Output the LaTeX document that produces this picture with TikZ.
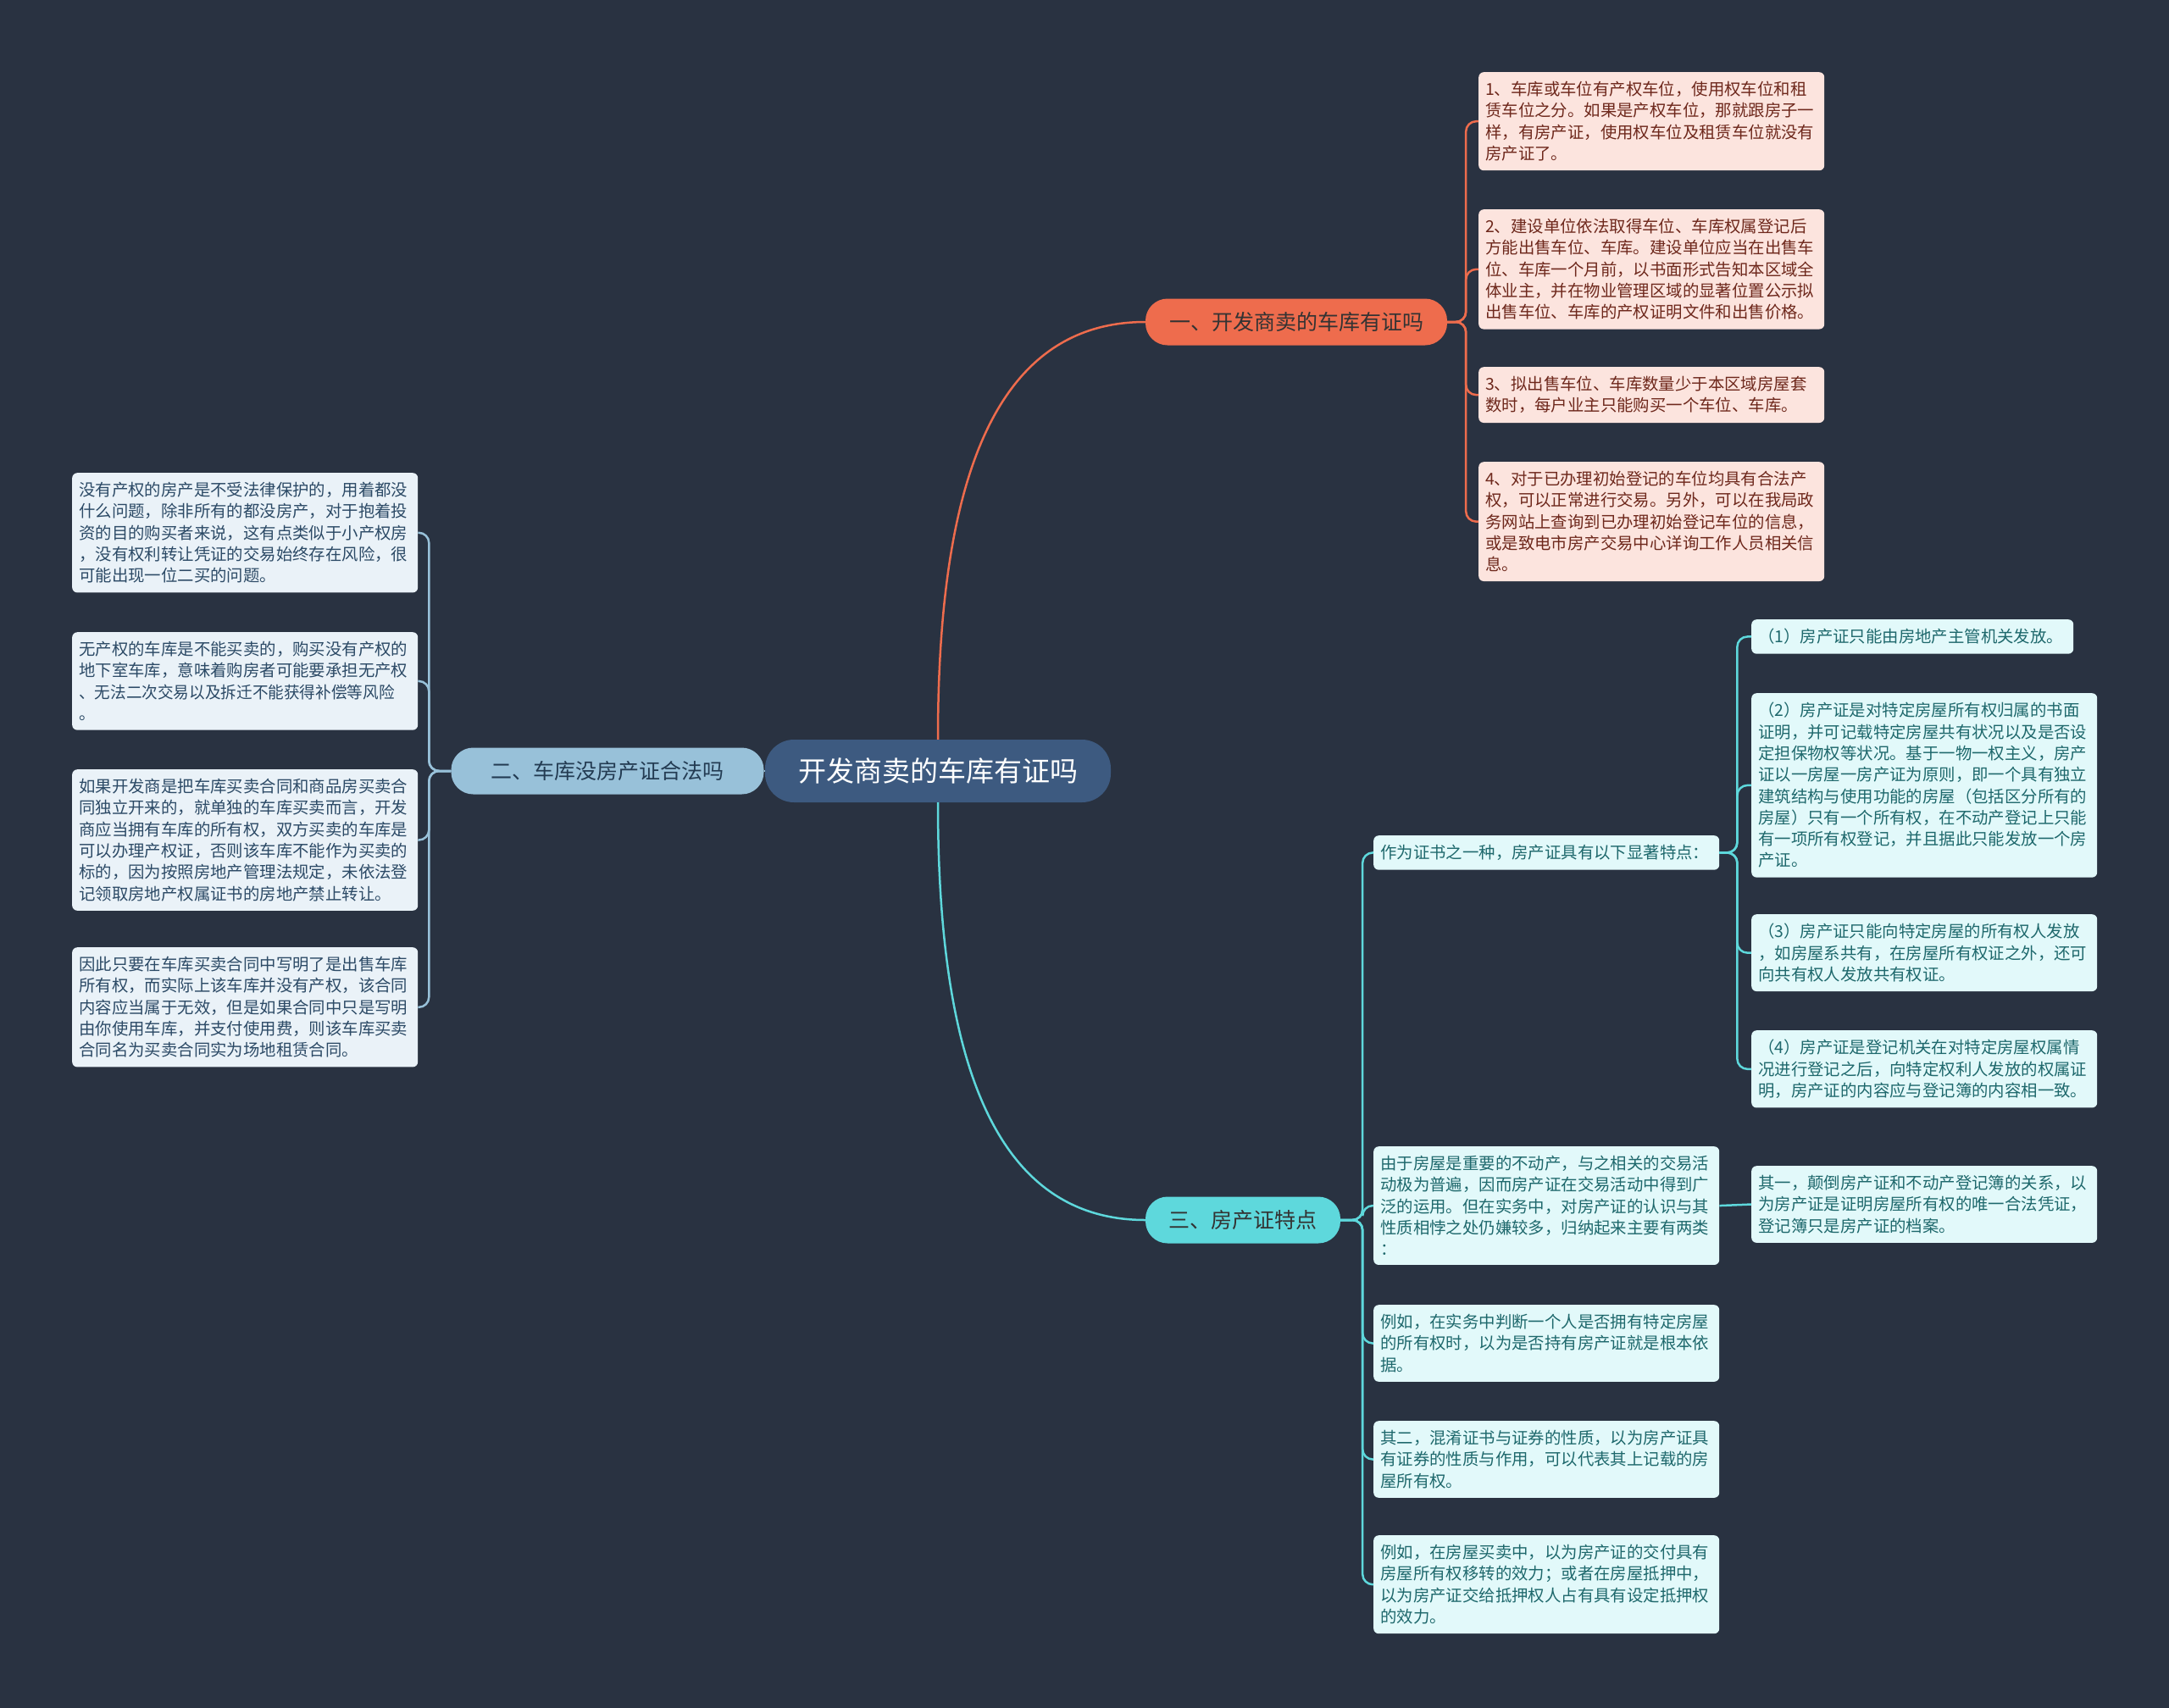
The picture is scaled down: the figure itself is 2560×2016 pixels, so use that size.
\documentclass[tikz,border=0pt]{standalone}
\usepackage{fontspec}
\setmainfont{Noto Sans CJK SC}
\usepackage{tikz}
\definecolor{bgdark}{RGB}{41,50,65}
\definecolor{rootblue}{RGB}{61,90,128}
\definecolor{mmorange}{RGB}{238,108,77}
\definecolor{mmsky}{RGB}{152,193,217}
\definecolor{mmcyan}{RGB}{94,216,220}
\definecolor{pinkfill}{RGB}{252,228,222}
\definecolor{pinktext}{RGB}{110,40,28}
\definecolor{skyfill}{RGB}{234,242,248}
\definecolor{skytext}{RGB}{44,74,102}
\definecolor{cyanfill}{RGB}{226,249,250}
\definecolor{cyantext}{RGB}{30,104,108}
% a line one character too long is set a little narrower
\newcommand{\tightline}[1]{{\addfontfeature{FakeStretch=0.96}#1}}

\begin{document}
\begin{tikzpicture}[x=1pt,y=-1pt,
  leafbox/.style={rounded corners=6pt,inner xsep=8pt,inner ysep=11pt,
    text width=392pt,align=left,anchor=north west,
    font=\fontsize{19.4}{25.3}\selectfont},
  leafA/.style={leafbox,fill=pinkfill,text=pinktext},
  leafB/.style={leafbox,fill=skyfill,text=skytext},
  leafC/.style={leafbox,fill=cyanfill,text=cyantext},
  topic/.style={rounded corners=26pt,minimum height=55pt,
    font=\fontsize{25}{30}\selectfont},
  linkA/.style={draw=mmorange,line width=2.5pt,rounded corners=12pt},
  linkB/.style={draw=mmsky,line width=2.5pt,rounded corners=12pt},
  linkC/.style={draw=mmcyan,line width=2.5pt,rounded corners=12pt}]
  \fill[bgdark] (0,0) rectangle (2560,2016);
  \useasboundingbox (0,0) rectangle (2560,2016);

  % centre and main topics
  \node[rounded corners=34pt,fill=rootblue,text=white,minimum width=408pt,
    minimum height=74pt,font=\fontsize{33}{38}\selectfont] (root) at (1107,910) {开发商卖的车库有证吗};
  \node[topic,fill=mmorange,text=black!80,minimum width=356pt] (b1) at (1530,380) {一、开发商卖的车库有证吗};
  \node[topic,fill=mmsky,text=skytext!80!black,minimum width=369pt] (b2) at (717,910) {二、车库没房产证合法吗};
  \node[topic,fill=mmcyan,text=black!80,minimum width=230pt] (b3) at (1467,1440) {三、房产证特点};

  % branch one
  \node[leafA] (l1) at (1745,85) {1、车库或车位有产权车位，使用权车位和租\\赁车位之分。如果是产权车位，那就跟房子一\\样，有房产证，使用权车位及租赁车位就没有\\房产证了。};
  \node[leafA] (l2) at (1745,247) {2、建设单位依法取得车位、车库权属登记后\\方能出售车位、车库。建设单位应当在出售车\\位、车库一个月前，以书面形式告知本区域全\\体业主，并在物业管理区域的显著位置公示拟\\出售车位、车库的产权证明文件和出售价格。};
  \node[leafA] (l3) at (1745,433) {3、拟出售车位、车库数量少于本区域房屋套\\数时，每户业主只能购买一个车位、车库。};
  \node[leafA] (l4) at (1745,545) {4、对于已办理初始登记的车位均具有合法产\\权，可以正常进行交易。另外，可以在我局政\\务网站上查询到已办理初始登记车位的信息，\\或是致电市房产交易中心详询工作人员相关信\\息。};

  % branch two
  \node[leafB] (m1) at (85,558) {没有产权的房产是不受法律保护的，用着都没\\什么问题，除非所有的都没房产，对于抱着投\\资的目的购买者来说，这有点类似于小产权房\\，没有权利转让凭证的交易始终存在风险，很\\可能出现一位二买的问题。};
  \node[leafB] (m2) at (85,746) {无产权的车库是不能买卖的，购买没有产权的\\地下室车库，意味着购房者可能要承担无产权\\\tightline{、无法二次交易以及拆迁不能获得补偿等风险}\\。};
  \node[leafB] (m3) at (85,908) {如果开发商是把车库买卖合同和商品房买卖合\\同独立开来的，就单独的车库买卖而言，开发\\商应当拥有车库的所有权，双方买卖的车库是\\可以办理产权证，否则该车库不能作为买卖的\\标的，因为按照房地产管理法规定，未依法登\\记领取房地产权属证书的房地产禁止转让。};
  \node[leafB] (m4) at (85,1118) {因此只要在车库买卖合同中写明了是出售车库\\所有权，而实际上该车库并没有产权，该合同\\内容应当属于无效，但是如果合同中只是写明\\由你使用车库，并支付使用费，则该车库买卖\\合同名为买卖合同实为场地租赁合同。};

  % branch three
  \node[leafC] (n1) at (1621,986) {作为证书之一种，房产证具有以下显著特点：};
  \node[leafC] (n2) at (1621,1353) {由于房屋是重要的不动产，与之相关的交易活\\动极为普遍，因而房产证在交易活动中得到广\\泛的运用。但在实务中，对房产证的认识与其\\性质相悖之处仍嫌较多，归纳起来主要有两类\\：};
  \node[leafC] (n3) at (1621,1540) {例如，在实务中判断一个人是否拥有特定房屋\\的所有权时，以为是否持有房产证就是根本依\\据。};
  \node[leafC] (n4) at (1621,1677) {其二，混淆证书与证券的性质，以为房产证具\\有证券的性质与作用，可以代表其上记载的房\\屋所有权。};
  \node[leafC] (n5) at (1621,1812) {例如，在房屋买卖中，以为房产证的交付具有\\房屋所有权移转的效力；或者在房屋抵押中，\\以为房产证交给抵押权人占有具有设定抵押权\\的效力。};
  \node[leafC,text width=364pt] (p1) at (2067,731) {（1）房产证只能由房地产主管机关发放。};
  \node[leafC] (p2) at (2067,818) {（2）房产证是对特定房屋所有权归属的书面\\证明，并可记载特定房屋共有状况以及是否设\\定担保物权等状况。基于一物一权主义，房产\\证以一房屋一房产证为原则，即一个具有独立\\建筑结构与使用功能的房屋（包括区分所有的\\房屋）只有一个所有权，在不动产登记上只能\\有一项所有权登记，并且据此只能发放一个房\\产证。};
  \node[leafC] (p3) at (2067,1079) {（3）房产证只能向特定房屋的所有权人发放\\，如房屋系共有，在房屋所有权证之外，还可\\向共有权人发放共有权证。};
  \node[leafC] (p4) at (2067,1216) {（4）房产证是登记机关在对特定房屋权属情\\况进行登记之后，向特定权利人发放的权属证\\明，房产证的内容应与登记簿的内容相一致。};
  \node[leafC] (q1) at (2067,1376) {其一，颠倒房产证和不动产登记簿的关系，以\\为房产证是证明房屋所有权的唯一合法凭证，\\登记簿只是房产证的档案。};

  % connectors
  \draw[linkA] (root.north) .. controls +(0,-273) and +(-192,0) .. (b1.west);
  \draw[linkC] (root.south) .. controls +(0,273) and +(-192,0) .. (b3.west);
  \draw[linkB] (root.west) -- (b2.east);
  \foreach \n in {l1,l2,l3,l4}
    \draw[linkA] (b1.east) -- ++(22,0) |- (\n.west);
  \foreach \n in {m1,m2,m3,m4}
    \draw[linkB] (b2.west) -- ++(-26,0) |- (\n.east);
  \foreach \n in {n1,n2,n3,n4,n5}
    \draw[linkC] (b3.east) -- ++(26,0) |- (\n.west);
  \foreach \n in {p1,p2,p3,p4}
    \draw[linkC] (n1.east) -- ++(21,0) |- (\n.west);
  \draw[linkC] (n2.east) -- (q1.west);
\end{tikzpicture}
\end{document}
